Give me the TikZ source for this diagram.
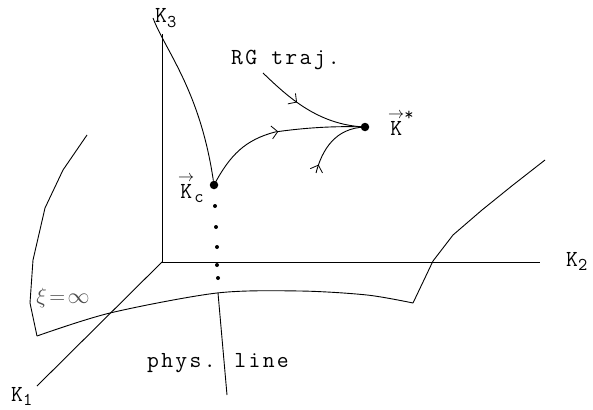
\RequirePackage{fix-cm}
\documentclass[tikz,border=0pt]{standalone}
\usepackage{fontspec}
\newfontfamily\labfont{Latin Modern Mono}[LetterSpace=10]
\newfontfamily\subfont{Latin Modern Mono}
\usetikzlibrary{arrows.meta,decorations.markings}
\newcommand\ksub[1]{\raisebox{-0.45ex}{\subfont\fontsize{18}{18}\selectfont #1}}
\newcommand\vecK{$\stackrel{\rightarrow}{\hbox{K}}$}
\tikzset{
  lab/.style={font=\labfont\fontsize{23}{25}\selectfont, inner sep=0pt},
  ax/.style={line width=0.9pt},
  crv/.style={line width=0.9pt, line join=round},
  midarrow/.style={postaction={decorate},decoration={markings,mark=at position #1 with {\arrow{Straight Barb[length=6pt,width=13pt,line width=0.8pt]}}}},
  bigdot/.style={circle,fill,inner sep=0pt,minimum size=8.5pt},
  smalldot/.style={circle,fill,inner sep=0pt,minimum size=4pt},
}
\begin{document}
\begin{tikzpicture}[x=1pt,y=-1pt]
\useasboundingbox (0,0) rectangle (593,409);
% axes
\coordinate (o) at (162,262);
\coordinate (k3end) at (162,34);
\coordinate (k2end) at (540,262);
\coordinate (k1end) at (37,386);
\draw[ax] (o) -- (k3end);
\draw[ax] (o) -- (k2end);
\draw[ax] (o) -- (k1end);
\node[lab,anchor=base west] (k3lab) at (155,23) {K\ksub{3}};
\node[lab,anchor=base west] (k2lab) at (566,266) {K\ksub{2}};
\node[lab,anchor=base west] (k1lab) at (11,401) {K\ksub{1}};
% surface xi = infinity
\draw[crv] (87,135) -- (63,170) -- (45,208) -- (33,260) -- (30,303) -- (37,336);
\draw[crv] plot[smooth] coordinates {(37,336) (110,313) (217,293) (300,291) (367,295) (413,303)};
\draw[crv] (413,303) -- (433,261) -- (453,235) -- (482,210) -- (513,185) -- (545,160);
\node[text=black!70, font=\fontsize{22}{22}\selectfont, inner sep=0pt] (xi) at (63,298) {$\xi\!=\!\infty$};
% points
\node[bigdot] (kc) at (214,185) {};
\node[bigdot] (kstar) at (365,127) {};
\node[lab,anchor=base west] (kclab) at (178,198) {\vecK\ksub{c}};
\node[lab,anchor=base west] (kstarlab) at (388,135) {\vecK\raisebox{1.5ex}{\subfont\fontsize{18}{18}\selectfont *}};
% dots on physical line
\node[smalldot] (d1) at (215,206) {};
\node[smalldot] (d2) at (216,227) {};
\node[smalldot] (d3) at (217,247) {};
\node[smalldot] (d4) at (217,265) {};
\node[smalldot] (d5) at (218,278) {};
% physical line
\coordinate (ptop) at (218,293);
\coordinate (pbot) at (227,395);
\draw[ax] (ptop) -- (pbot);
\node[lab,anchor=base west] (phys) at (147,367) {phys. line};
% curves
\coordinate (k3c) at (153,18);
\draw[crv] (k3c) .. controls (165,50) and (200,90) .. (kc);
\draw[crv, midarrow=0.5] (kc.center) .. controls (230,155) and (245,140) .. (275,132) .. controls (310,127) and (340,126) .. (kstar.center);
\coordinate (rgs) at (263,73);
\draw[crv, midarrow=0.38] (rgs) .. controls (288,97) and (318,125) .. (kstar.center);
\coordinate (lows) at (316,173);
\draw[crv, midarrow=0.12] (lows) .. controls (322,150) and (335,128) .. (kstar.center);
\node[lab,anchor=base west] (rg) at (231,65) {RG traj.};
\end{tikzpicture}
\end{document}
